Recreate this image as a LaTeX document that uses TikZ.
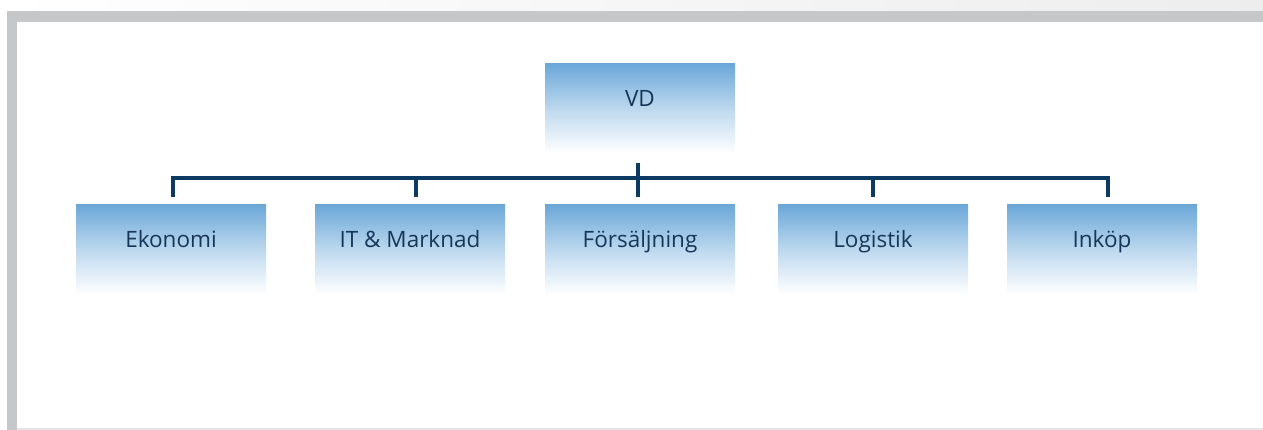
\documentclass[tikz,border=0pt]{standalone}
\usepackage{fontspec}
\setmainfont{Open Sans}
\usetikzlibrary{calc}
\definecolor{navy}{HTML}{0D3A63}
\definecolor{txt}{HTML}{17365A}
\definecolor{boxtop}{HTML}{6AA7D8}
\definecolor{frame}{HTML}{C6C7C9}
\begin{document}
\begin{tikzpicture}[x=1pt,y=-1pt,
  orgbox/.style={minimum width=190pt,minimum height=90pt,inner sep=0pt,
    top color=boxtop,bottom color=white,middle color=boxtop!45!white,anchor=north},
  orgtext/.style={text=txt,font=\fontsize{22.5}{26}\selectfont,inner sep=0pt,anchor=base},
  bus/.style={draw=navy,line width=4pt}]
\useasboundingbox (0,0) rectangle (1263,430);
\shade[left color=white,right color=black!7] (0,0) rectangle (1263,11);
\fill[frame] (7,11) rectangle (1263,22);
\fill[frame] (7,11) rectangle (17,430);
\fill[black!10] (17,428) rectangle (1263,430);
% boxes
\node[orgbox] (vd) at (640,63) {};
\node[orgtext] (vdt) at ($(vd.north)+(0,44)$) {VD};
\foreach \n/\x/\t in {eko/171/Ekonomi,it/410/{IT \& Marknad},fors/640/Försäljning,log/873/Logistik,ink/1102/Inköp}{
  \node[orgbox] (\n) at (\x,204) {};
  \node[orgtext] (\n t) at ($(\n.north)+(0,44)$) {\t};
}
% connectors
\coordinate (vs) at ($(vd.south)+(-2,10)$);
\coordinate (ve) at ($(fors.north)+(-2,-7)$);
\coordinate (ekoT) at ($(eko.north)+(2,-7)$);
\coordinate (itT) at ($(it.north)+(6,-7)$);
\coordinate (logT) at ($(log.north)+(0,-7)$);
\coordinate (inkT) at ($(ink.north)+(6,-7)$);
\coordinate (ekoB) at ($(ekoT)+(0,-19)$);
\coordinate (itB) at ($(itT)+(0,-19)$);
\coordinate (logB) at ($(logT)+(0,-19)$);
\coordinate (inkB) at ($(inkT)+(0,-19)$);
\draw[bus] (vs) -- (ve);
\draw[bus] (ekoT) -- (ekoB) -- (inkB) -- (inkT);
\draw[bus] (itB) -- (itT);
\draw[bus] (logB) -- (logT);
\end{tikzpicture}
\end{document}
